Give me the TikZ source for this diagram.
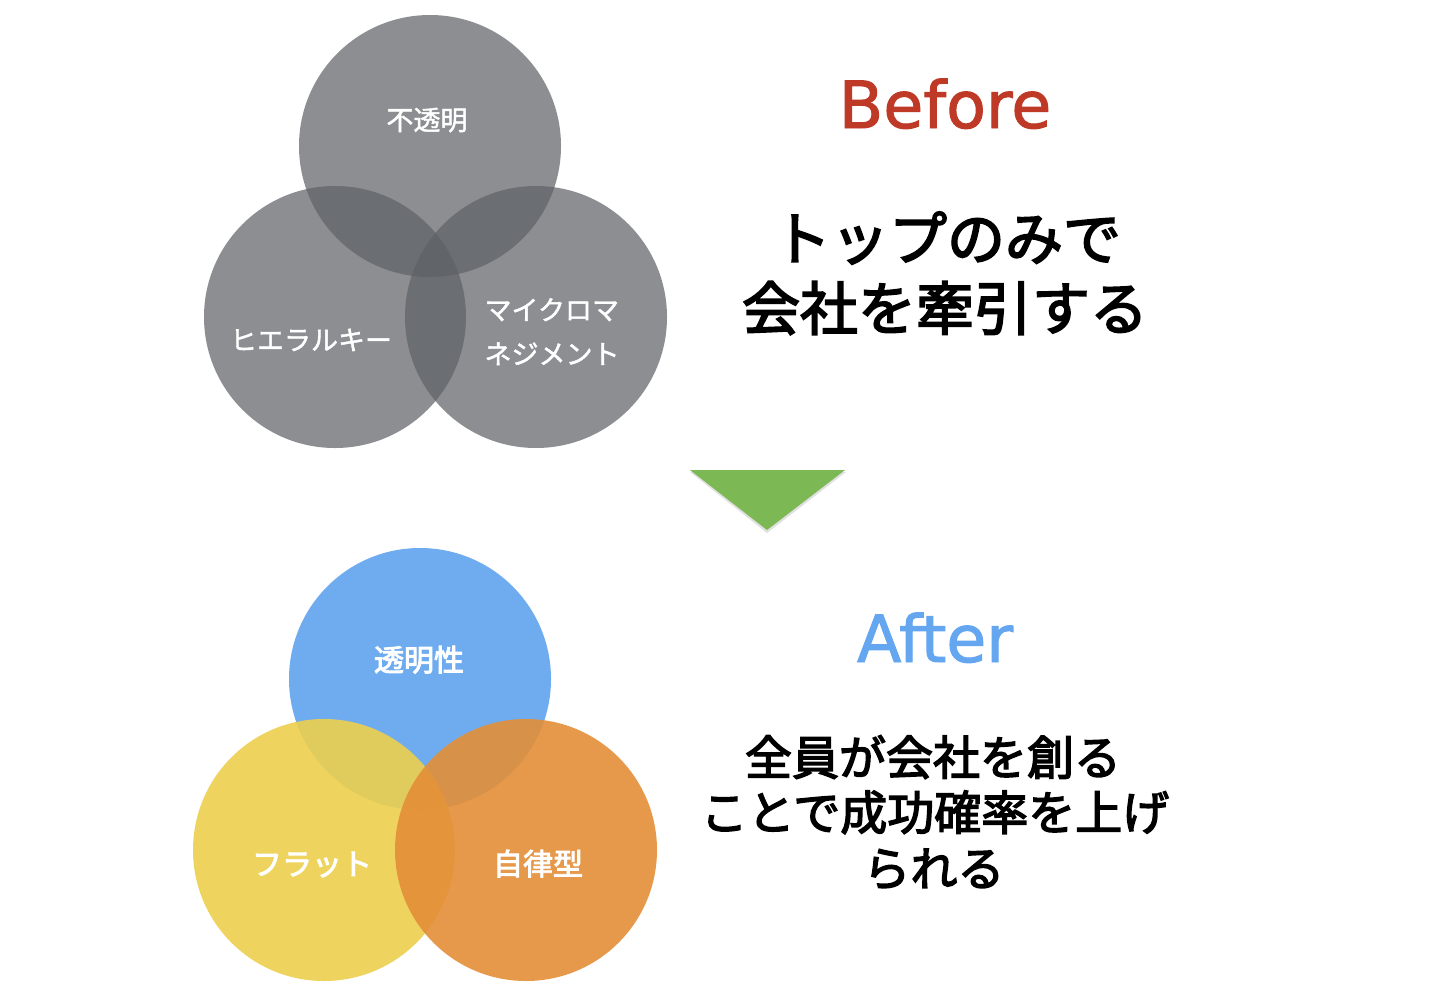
\documentclass[tikz,border=0pt]{standalone}
\usepackage{fontspec}
\newfontfamily\jpa[FakeBold=1.6]{Noto Sans CJK JP}
\newfontfamily\jpb[FakeBold=3]{Noto Sans CJK JP}
\newfontfamily\lat[FakeBold=1.5]{DejaVu Sans}
\definecolor{grayc}{RGB}{94,97,102}
\definecolor{bluec}{RGB}{96,163,238}
\definecolor{yellowc}{RGB}{237,208,78}
\definecolor{orangec}{RGB}{228,143,56}
\definecolor{beforered}{RGB}{190,58,38}
\definecolor{afterblue}{RGB}{100,166,240}
\definecolor{trigreen}{RGB}{124,185,84}
\begin{document}
\begin{tikzpicture}[x=1pt,y=-1pt,
  venn/.style={circle, inner sep=0pt, minimum size=262pt, draw=none},
  graycirc/.style={venn, fill=grayc, fill opacity=0.71},
  colcirc/.style={venn, fill opacity=0.9},
  toplabel/.style={text=white, anchor=base, font=\jpa\fontsize{27}{44}\selectfont},
  botlabel/.style={text=white, anchor=base, font=\jpb\fontsize{30}{36}\selectfont},
  title/.style={anchor=base, font=\lat\fontsize{65}{78}\selectfont},
  bigjp/.style={anchor=base, text=black, font=\jpb\fontsize{58}{70}\selectfont},
  midjp/.style={anchor=base, text=black, font=\jpb\fontsize{47}{55}\selectfont}
]
\useasboundingbox (0,0) rectangle (1440,991);
\fill[white] (0,0) rectangle (1440,991);

% Before circles
\node[graycirc] (g1) at (430,146) {};
\node[graycirc] (g2) at (335,317) {};
\node[graycirc] (g3) at (536,317) {};
\node[toplabel] (l1) at (427,130) {不透明};
\node[toplabel] (l2) at (311,350) {ヒエラルキー};
\node[toplabel, anchor=base west] (l3) at (481,320) {マイクロマ};
\node[toplabel, anchor=base west] (l4) at (481,364) {ネジメント};

% After circles
\node[colcirc, fill=bluec] (b1) at (420,679) {};
\node[colcirc, fill=yellowc] (b2) at (324,850) {};
\node[colcirc, fill=orangec] (b3) at (526,850) {};
\node[botlabel] (m1) at (419,671) {透明性};
\node[botlabel] (m2) at (312,875) {フラット};
\node[botlabel] (m3) at (538,875) {自律型};

% Arrow triangle
\fill[black, opacity=0.12] (690,472) -- (846,472) -- (767,533) -- cycle;
\fill[trigreen] (690,470) -- (845,470) -- (767,530) -- cycle;

% Titles
\node[title, text=beforered] (before) at (945,128) {Before};
\node[bigjp] (t1) at (947,260) {トップのみで};
\node[bigjp] (t2) at (945,330) {会社を牽引する};

\node[title, text=afterblue] (after) at (935,662) {After};
\node[midjp] (a1) at (933,775) {全員が会社を創る};
\node[midjp] (a2) at (935,830) {ことで成功確率を上げ};
\node[midjp] (a3) at (934,886) {られる};
\end{tikzpicture}
\end{document}
